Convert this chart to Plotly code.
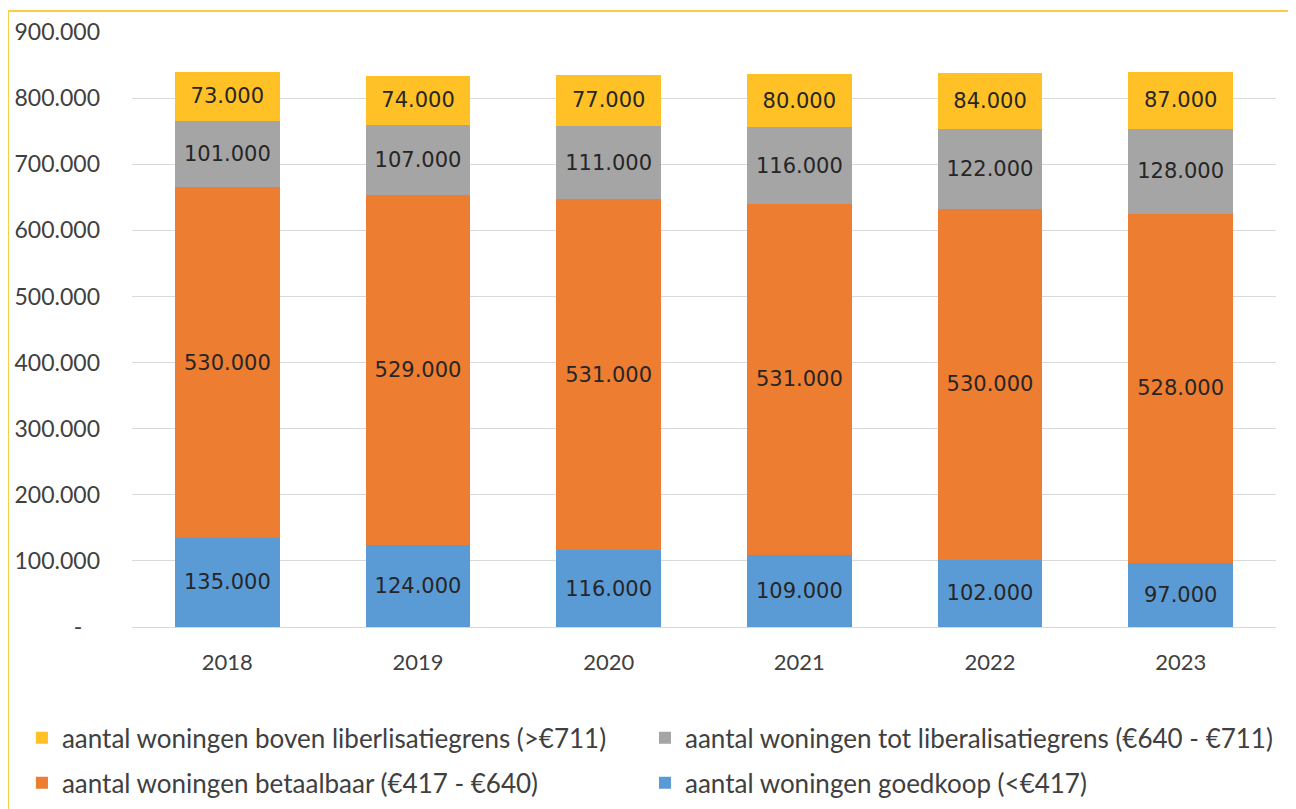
import plotly.graph_objects as go

years = ["2018", "2019", "2020", "2021", "2022", "2023"]
goedkoop = [135000, 124000, 116000, 109000, 102000, 97000]
betaalbaar = [530000, 529000, 531000, 531000, 530000, 528000]
tot_lib = [101000, 107000, 111000, 116000, 122000, 128000]
boven_lib = [73000, 74000, 77000, 80000, 84000, 87000]

series = [
    ("aantal woningen goedkoop (<€417)", goedkoop, "#5B9BD5", "legend2", 2),
    ("aantal woningen betaalbaar (€417 - €640)", betaalbaar, "#ED7D31", "legend", 2),
    ("aantal woningen tot liberalisatiegrens (€640 - €711)", tot_lib, "#A5A5A5", "legend2", 1),
    ("aantal woningen boven liberlisatiegrens (>€711)", boven_lib, "#FFC125", "legend", 1),
]

tick_vals = [0, 100000, 200000, 300000, 400000, 500000, 600000, 700000, 800000, 900000]
tick_text = ["-   ", "100.000", "200.000", "300.000", "400.000", "500.000",
             "600.000", "700.000", "800.000", "900.000"]

def fmt(v):
    return f"{v:,}".replace(",", ".")

FONT = "Lato"
LABEL_FONT = "DejaVu Sans"
fig = go.Figure()
for i, (name, vals, color, lg, rank) in enumerate(series):
    fig.add_trace(go.Bar(
        x=years, y=vals, name=name, legend=lg, legendgroup=f"g{i}",
        legendrank=rank,
        marker=dict(color=color, line=dict(width=0)),
        text=[fmt(v) for v in vals],
        textposition="inside", insidetextanchor="middle",
        textangle=0,
        textfont=dict(family=LABEL_FONT, size=21, color="#262626"),
        constraintext="none",
    ))

legend_common = dict(
    orientation="v", traceorder="grouped", yanchor="top", y=-0.147,
    xanchor="left", font=dict(family=FONT, size=26, color="#404040"),
    itemwidth=30, tracegroupgap=8, bgcolor="rgba(0,0,0,0)",
)

fig.update_layout(
    barmode="stack", bargap=0.45,
    width=1296, height=809,
    margin=dict(l=124, r=28, t=24, b=190, autoexpand=False),
    paper_bgcolor="white", plot_bgcolor="white",
    font=dict(family=FONT, color="#595959"),
    xaxis=dict(
        showgrid=False, showline=False, ticks="", automargin=False,
        tickfont=dict(family=FONT, size=22, color="#404040"),
        ticklabelstandoff=20,
    ),
    yaxis=dict(
        range=[0, 900000], tickvals=tick_vals, ticktext=tick_text,
        showgrid=True, gridcolor="#D9D9D9", gridwidth=1, automargin=False,
        zeroline=True, zerolinecolor="#D9D9D9", zerolinewidth=1,
        showline=False, ticks="",
        tickfont=dict(family=FONT, size=23, color="#404040"),
        ticklabelstandoff=31,
    ),
    legend=dict(x=-0.0962, **legend_common),
    legend2=dict(x=0.4484, **legend_common),
    showlegend=True,
    shapes=[
        dict(type="line", xref="paper", yref="paper",
             x0=-0.1084, x1=-0.1084, y0=-0.35, y1=1.0353,
             line=dict(color="#FFC94A", width=2)),
        dict(type="line", xref="paper", yref="paper",
             x0=-0.1084, x1=1.05, y0=1.0353, y1=1.0353,
             line=dict(color="#FFC94A", width=2)),
    ],
)

fig.write_html("out.html")
